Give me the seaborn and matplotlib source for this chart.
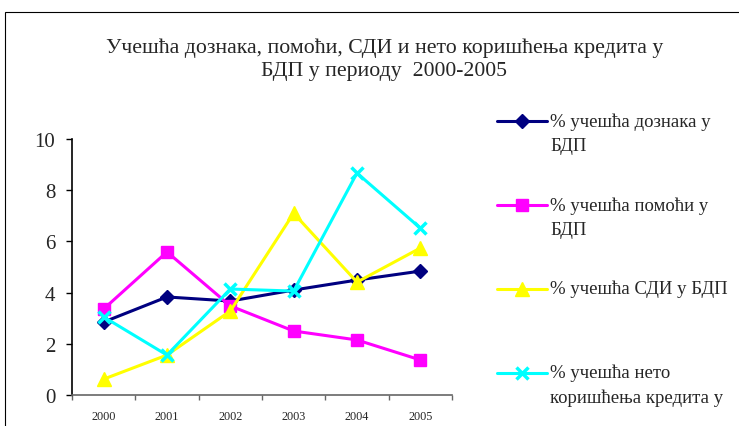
import numpy as np
import pandas as pd
import seaborn as sns
import matplotlib as mpl
import matplotlib.pyplot as plt
from matplotlib.patches import Rectangle
from matplotlib.legend_handler import HandlerLine2D
from matplotlib.ticker import FixedLocator, NullFormatter

# data
years = [2000, 2001, 2002, 2003, 2004, 2005]
remittances = [2.85, 3.83, 3.67, 4.10, 4.49, 4.84]
aid = [3.36, 5.59, 3.48, 2.50, 2.15, 1.37]
fdi = [0.62, 1.56, 3.28, 7.10, 4.41, 5.74]
loans = [3.05, 1.56, 4.14, 4.06, 8.67, 6.52]

labels = [
    '% учешћа дознака у\nБДП',
    '% учешћа помоћи у\nБДП',
    '% учешћа СДИ у БДП\n ',
    '% учешћа нето\nкоришћења кредита у',
]
title = 'Учешћа дознака, помоћи, СДИ и нето коришћења кредита у\nБДП у периоду  2000-2005'

sns.set_style("white")
mpl.rcParams['font.family'] = ['Liberation Serif', 'DejaVu Serif']

fig = plt.figure(figsize=(7.39, 4.27), dpi=100)
ax = fig.add_axes([0.0974, 0.0726, 0.5142, 0.5995])

series = [
    (remittances, '#000080', 'D', 7, 1.0),
    (aid, '#FF00FF', 's', 8, 1.0),
    (fdi, '#FFFF00', '^', 9.5, 1.0),
    (loans, '#00FFFF', 'x', 9, 2.5),
]
for vals, color, marker, ms, mew in series:
    df = pd.DataFrame({'year': years, 'value': vals})
    sns.lineplot(data=df, x='year', y='value', ax=ax, color=color, marker=marker,
                 markersize=ms, mec=color, mew=mew, lw=2.2, legend=False)

ax.set_xlim(1999.5, 2005.5)
ax.set_ylim(0, 10)
ax.set_yticks([0, 2, 4, 6, 8, 10])
ax.xaxis.set_major_locator(FixedLocator(np.arange(1999.5, 2006, 1)))
ax.xaxis.set_major_formatter(NullFormatter())
ax.xaxis.set_minor_locator(FixedLocator(years))
ax.set_xticklabels([str(y) for y in years], minor=True)
ax.tick_params(axis='x', which='major', direction='out', length=3.5, width=1, color='#666666', bottom=True)
ax.tick_params(axis='x', which='minor', length=0, labelsize=8.8, pad=11, bottom=True)
ax.tick_params(axis='y', direction='out', length=4, width=1, color='black', labelsize=15, left=True, pad=8)
ax.set_xlabel('')
ax.set_ylabel('')
sns.despine(ax=ax)
ax.spines['left'].set_color('black')
ax.spines['bottom'].set_color('#666666')
for s in ['left', 'bottom']:
    ax.spines[s].set_linewidth(1.2)


class FirstLineHandler(HandlerLine2D):
    # legend handle centred on the first text line instead of the whole label
    def __init__(self, shift, **kw):
        super().__init__(**kw)
        self.shift = shift

    def create_artists(self, legend, orig_handle, xdescent, ydescent, width, height, fontsize, trans):
        return super().create_artists(legend, orig_handle, xdescent, ydescent - 2 * self.shift,
                                      width, height, fontsize, trans)


half_pitch = 8.5
lines = ax.get_lines()[:4]
hmap = {ln: FirstLineHandler(half_pitch * lab.count('\n'), numpoints=1) for ln, lab in zip(lines, labels)}
leg = fig.legend(lines, labels, handler_map=hmap, loc='upper left', bbox_to_anchor=(0.6725, 0.7347),
                 frameon=False, fontsize=13.5, handlelength=2.67, handletextpad=0.16, borderpad=0,
                 borderaxespad=0, labelspacing=2.23)
for t in leg.get_texts():
    t.set_linespacing(1.57)

fig.text(0.52, 0.859, title, ha='center', va='center', fontsize=15.7, linespacing=1.28)

fig.patches.append(Rectangle((5 / 739, -0.1), 1.1, 1.0696, transform=fig.transFigure,
                             fill=False, edgecolor='black', lw=0.8, clip_on=False))

fig.savefig('out.png', dpi=100)
